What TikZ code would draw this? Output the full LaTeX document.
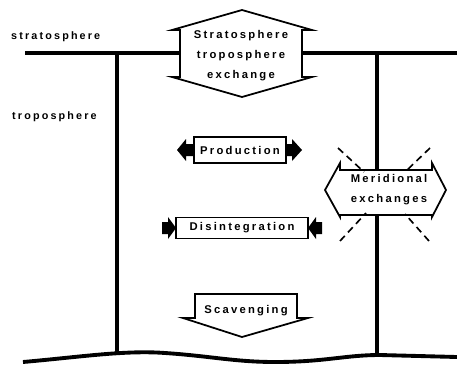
\documentclass[tikz,border=0pt]{standalone}
\usepackage{fontspec}
\setmainfont{Liberation Sans}[LetterSpace=20]
\usetikzlibrary{positioning}

\begin{document}
\begin{tikzpicture}[x=0.03cm, y=-0.03cm,
    limit/.style={line width=2.8pt},
    box/.style={draw, line width=1.5pt, fill=white},
    txt/.style={font=\bfseries\fontsize{9.6}{17}\selectfont, align=center, inner sep=0pt},
    lbl/.style={font=\bfseries\fontsize{9.2}{10}\selectfont, inner sep=0pt},
    cut/.style={line width=1.4pt, dash pattern=on 6pt off 4pt}]
      \useasboundingbox (0,0) rectangle (457,364);

      % Limits
      \draw[limit] (25,53) -- (457,53);
      \draw[limit] (117,53) -- (117,355);
      \draw[limit] (377,53) -- (377,355);
      \draw[line width=3.3pt] (23,362) .. controls (80,357) and (125,350) .. (165,353)
        .. controls (210,356) and (235,362) .. (275,362)
        .. controls (325,362) and (345,355) .. (380,355) -- (457,357);
      \node[lbl, anchor=west] (strat) at (11,37) {stratosphere};
      \node[lbl, anchor=west] (tropo) at (12,117) {troposphere};

      % Exchanges
      \draw[box] (180,77) -- (180,30) -- (172,30) -- (242,10) -- (312,30) -- (302,30)
        -- (302,77) -- (312,77) -- (242,97) -- (172,77) -- cycle;
      \node[txt] (ste) at (241,56) {Stratosphere\\troposphere\\exchange};

      \draw[box] (340,170) -- (432,170) -- (432,163) -- (446,190) -- (432,217) -- (432,215)
        -- (340,215) -- (340,217) -- (325,190) -- (340,163) -- cycle;
      \node[txt] (mer) at (389,190) {Meridional\\exchanges};
      \draw[cut] (338,148) -- (364,172);
      \draw[cut] (430,148) -- (405,172);
      \draw[cut] (340,241) -- (366,213);
      \draw[cut] (429,241) -- (405,214);

      % Sources and sinks
      \node[box, txt, minimum width=2.76cm, minimum height=0.78cm] (prod) at (240,150) {Production};
      \fill (194,144) -- (186,144) -- (186,139) -- (177,150) -- (186,161) -- (186,156) -- (194,156) -- cycle;
      \fill (286,144) -- (292,144) -- (292,139) -- (302,150) -- (292,161) -- (292,156) -- (286,156) -- cycle;

      \node[box, txt, minimum width=3.96cm, minimum height=0.63cm] (dis) at (242,228) {Disintegration};
      \fill (162,222) -- (168,222) -- (168,217) -- (176,228) -- (168,239) -- (168,234) -- (162,234) -- cycle;
      \fill (322,222) -- (316,222) -- (316,217) -- (308,228) -- (316,239) -- (316,234) -- (322,234) -- cycle;

      \draw[box] (195,318) -- (195,294) -- (297,294) -- (297,318) -- (308,318) -- (242,337)
        -- (183,318) -- cycle;
      \node[txt] (scav) at (246,311) {Scavenging};
\end{tikzpicture}
\end{document}
